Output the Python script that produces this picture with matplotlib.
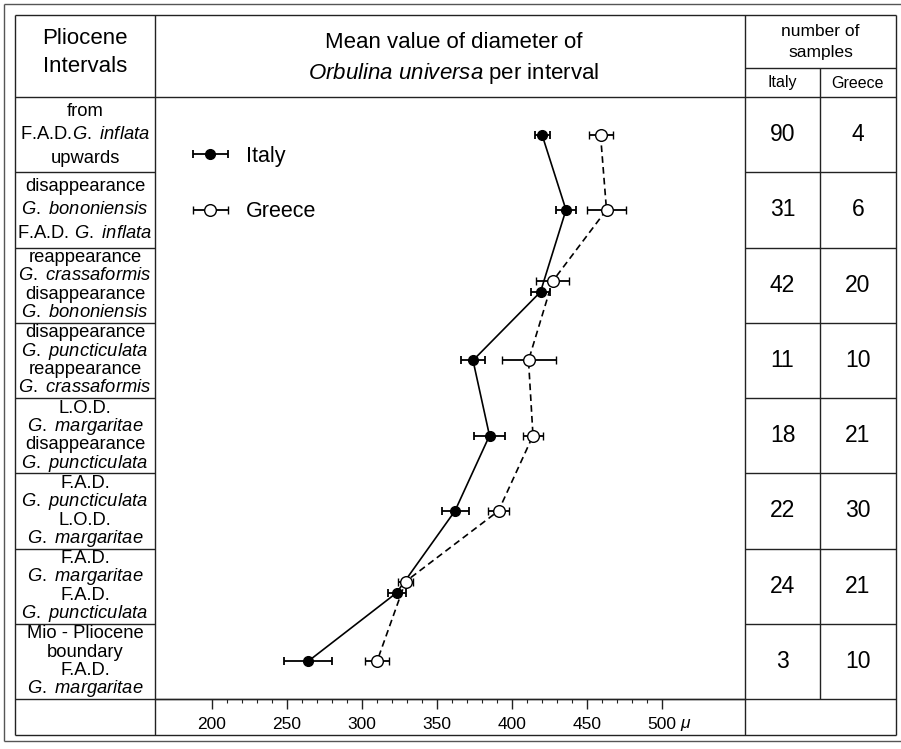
import matplotlib
matplotlib.use("Agg")
import matplotlib.pyplot as plt
from matplotlib.container import ErrorbarContainer
from matplotlib.legend_handler import HandlerErrorbar
import numpy as np

plt.rcParams['font.family'] = ['Liberation Sans', 'DejaVu Sans']
plt.rcParams['mathtext.fontset'] = 'custom'
plt.rcParams['mathtext.rm'] = 'Liberation Sans'
plt.rcParams['mathtext.it'] = 'Liberation Sans:italic'
plt.rcParams['mathtext.bf'] = 'Liberation Sans:bold'

# intervals, youngest at the top
intervals = [
    ["from", r"F.A.D.$\mathit{G.\ inflata}$", "upwards"],
    ["disappearance", r"$\mathit{G.\ bononiensis}$", r"F.A.D. $\mathit{G.\ inflata}$"],
    ["reappearance", r"$\mathit{G.\ crassaformis}$", "disappearance", r"$\mathit{G.\ bononiensis}$"],
    ["disappearance", r"$\mathit{G.\ puncticulata}$", "reappearance", r"$\mathit{G.\ crassaformis}$"],
    ["L.O.D.", r"$\mathit{G.\ margaritae}$", "disappearance", r"$\mathit{G.\ puncticulata}$"],
    ["F.A.D.", r"$\mathit{G.\ puncticulata}$", "L.O.D.", r"$\mathit{G.\ margaritae}$"],
    ["F.A.D.", r"$\mathit{G.\ margaritae}$", "F.A.D.", r"$\mathit{G.\ puncticulata}$"],
    ["Mio - Pliocene", "boundary", "F.A.D.", r"$\mathit{G.\ margaritae}$"],
]

# mean diameter (micron) and half-width of the bars
italy_mean = [420, 436, 419, 374, 385, 362, 323, 264]
italy_err = [5, 6.5, 6.5, 8, 10.5, 9, 6, 16]
greece_mean = [459, 463, 427, 411, 414, 391, 329, 310]
greece_err = [8, 13, 11, 18, 6.5, 7, 5, 8]

# number of samples per interval
italy_n = [90, 31, 42, 11, 18, 22, 24, 3]
greece_n = [4, 6, 20, 10, 21, 30, 21, 10]

xticks = [200, 250, 300, 350, 400, 450, 500]

# small vertical nudges where the two series sit close together
italy_shift = np.array([0, 0, 0.09, 0, 0, 0, 0.09, 0])
greece_shift = np.array([0, 0, -0.05, 0, 0, 0, -0.06, 0])

W, H = 901, 749
fig = plt.figure(figsize=(W / 100, H / 100), dpi=100)

# background axes in pixel units for the table grid and text
bg = fig.add_axes([0, 0, 1, 1])
bg.set_xlim(0, W)
bg.set_ylim(H, 0)
bg.axis('off')

lc = '#222222'


def hline(y, x0, x1, lw=1.0, c=lc):
    bg.plot([x0, x1], [y, y], color=c, lw=lw, solid_capstyle='butt')


def vline(x, y0, y1, lw=1.0, c=lc):
    bg.plot([x, x], [y0, y1], color=c, lw=lw, solid_capstyle='butt')


# outer frame
vline(4, 4, 741, c='#555555')
hline(4, 4, W, c='#555555')
hline(741, 4, W, c='#555555')

# table
L, R, T, B = 15, 896, 15, 735
c1, c2, c3 = 155, 745, 820
head_b = 97
row_h = (699 - head_b) / 8
axis_y = head_b + 8 * row_h

hline(T, L, R)
hline(B, L, R)
vline(L, T, B)
vline(R, T, B)
vline(c1, T, B)
vline(c2, T, B)
vline(c3, 68, axis_y)
hline(68, c2, R)
hline(head_b, L, R)
for k in range(1, 9):
    y = head_b + k * row_h
    hline(y, L, c1)
    hline(y, c2, R)
hline(axis_y, c1, c2)

# header text
bg.text(85, 38, "Pliocene", ha='center', va='center', fontsize=16)
bg.text(85, 67, "Intervals", ha='center', va='center', fontsize=16)
bg.text(454, 43, "Mean value of diameter of", ha='center', va='center', fontsize=16)
bg.text(454, 73, r"$\mathit{Orbulina\ universa}$ per interval", ha='center', va='center', fontsize=16)
bg.text((c2 + R) / 2, 31, "number of", ha='center', va='center', fontsize=12.5)
bg.text((c2 + R) / 2, 53, "samples", ha='center', va='center', fontsize=12.5)
bg.text((c2 + c3) / 2, 83, "Italy", ha='center', va='center', fontsize=11.5)
bg.text((c3 + R) / 2, 83, "Greece", ha='center', va='center', fontsize=11.5)

# interval labels and sample counts
for i, lines in enumerate(intervals):
    yc = head_b + (i + 0.5) * row_h
    step = 23.5 if len(lines) == 3 else 18.3
    y0 = yc - step * (len(lines) - 1) / 2
    for j, s in enumerate(lines):
        bg.text(85, y0 + j * step, s, ha='center', va='center', fontsize=13.2)
    bg.text((c2 + c3) / 2, yc, str(italy_n[i]), ha='center', va='center', fontsize=16.5)
    bg.text((c3 + R) / 2, yc, str(greece_n[i]), ha='center', va='center', fontsize=16.5)

# plot panel
ax = fig.add_axes([c1 / W, (H - axis_y) / H, (c2 - c1) / W, (axis_y - head_b) / H])
ax.set_facecolor('none')
x_lo = 200 + (c1 - 212) / 1.5
x_hi = 200 + (c2 - 212) / 1.5
ax.set_xlim(x_lo, x_hi)
ax.set_ylim(8, 0)

rows = np.arange(8) + 0.5
yi = rows + italy_shift
yg = rows + greece_shift

ax.plot(italy_mean, yi, color='black', lw=1.2, zorder=2)
ax.plot(greece_mean, yg, color='black', lw=1.2, ls=(0, (4, 2.5)), zorder=2)
ax.errorbar(italy_mean, yi, xerr=italy_err, fmt='o', color='black', mfc='black',
            ms=7, elinewidth=1.3, capsize=3, capthick=1.3, zorder=3, label='Italy')
ax.errorbar(greece_mean, yg, xerr=greece_err, fmt='o', color='black', mfc='white',
            mec='black', mew=1.0, ms=8.4, elinewidth=1.3, capsize=3, capthick=1.3,
            zorder=3, label='Greece')

for s in ['top', 'left', 'right']:
    ax.spines[s].set_visible(False)
ax.spines['bottom'].set_linewidth(1.0)
ax.spines['bottom'].set_color(lc)
ax.set_yticks([])
ax.set_xticks(xticks)
ax.set_xticklabels([str(t) for t in xticks])
ax.set_xticks(np.arange(210, 500, 10), minor=True)
ax.tick_params(axis='x', which='major', length=7, width=1.0, labelsize=12.5, pad=6, color=lc)
ax.tick_params(axis='x', which='minor', length=3, width=0.8, color=lc)
ax.annotate(r"$\mu$", xy=(500, 0), xycoords=('data', 'axes fraction'),
            xytext=(13, -21), textcoords='offset points', ha='left', va='baseline',
            fontsize=12.5, annotation_clip=False)

ax.legend(loc='upper left', bbox_to_anchor=(192 / W, 1 - 146 / H),
          bbox_transform=fig.transFigure, frameon=False, fontsize=15.5,
          handlelength=1.7, handletextpad=0.8, labelspacing=1.6,
          borderpad=0, borderaxespad=0,
          handler_map={ErrorbarContainer: HandlerErrorbar(xerr_size=0.82)})

fig.savefig('out.png', dpi=100)
